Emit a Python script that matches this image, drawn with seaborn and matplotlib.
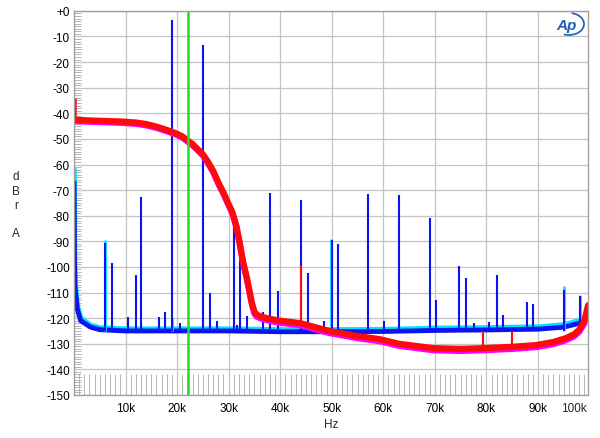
import numpy as np
import pandas as pd
import matplotlib
matplotlib.use("Agg")
import matplotlib.pyplot as plt
from matplotlib.patches import Arc
import seaborn as sns

# ---- data (frequencies in kHz, levels in dBr) ----
red_f = [0.12, 1, 3, 6, 9, 12, 14, 16, 18, 20, 21, 22, 23, 24, 25, 26, 27, 28, 29, 30, 30.7,
         31.5, 32, 32.8, 33.5, 34, 34.5, 35, 35.5, 36.5, 38, 40, 44, 49.5, 55, 59.3, 63, 69.6,
         75, 79.6, 85, 89.7, 93, 95.4, 97, 98, 99, 99.7]
red_db = [-42.5, -42.6, -42.8, -43, -43.2, -43.6, -44.2, -45.2, -46.5, -48, -49, -50.5, -52, -54,
          -56, -59, -62.5, -67, -71, -75.5, -78.5, -84, -89, -98, -104, -109, -114, -117.5, -118.7,
          -119.5, -120.3, -121, -122, -125, -127, -128.2, -130, -131.7, -132, -131.7, -131.2,
          -130.5, -129.3, -127.8, -126.3, -124.5, -121, -115]
magenta_db = [-43, -43.1, -43.3, -43.5, -43.7, -44.1, -44.7, -45.7, -47, -48.5, -49.5, -51, -52.5,
              -54.5, -56.5, -59.5, -63, -67.5, -71.5, -76, -79, -84.5, -89.5, -98.5, -104.5, -109.5,
              -114.5, -118.3, -119.5, -120.3, -121.1, -121.8, -122.8, -125.8, -127.8, -129, -130.8,
              -132.5, -132.8, -132.5, -132, -131.3, -130.1, -128.6, -127.1, -125.3, -122, -116.5]
red_dc_f = 0.2
red_dc_db = -34

blue_f = [0.02, 0.1, 0.2, 0.65, 1.3, 3.2, 5, 10, 15, 20, 30, 40, 50, 60, 70, 80, 90, 95, 98, 99.5]
blue_db = [-67, -98, -108, -116.5, -121, -123.5, -124.5, -125, -125, -125, -125, -125.3, -125.3,
           -125.2, -124.8, -124.6, -124.3, -123.5, -122, -120.5]
cyan_db = [-62, -95, -106, -115.5, -120, -122.8, -123.8, -124.3, -124.3, -124.3, -124.3, -124.6,
           -124.6, -124.5, -124, -123.8, -123.5, -122.7, -121, -119.5]

spike_f = [6, 7.3, 10.4, 12, 13, 16.4, 17.7, 19, 20.5, 25, 26.3, 27.8, 31, 31.6, 32.2, 33.6, 36.6,
           38, 39.5, 44, 45.3, 48.5, 50, 51.2, 57, 60.1, 63, 69, 70.2, 74.7, 76, 77.6, 80.5, 82, 83.3,
           87.8, 89, 95, 98.1]
spike_db = [-90.5, -98.5, -119.5, -103, -72.5, -119.5, -117.5, -3.4, -122, -13.2, -110, -121, -81,
            -122.5, -95.5, -119, -117.5, -71, -109.5, -74, -102.5, -121, -89.5, -91, -71.5, -121,
            -72, -81, -113, -99.5, -104.3, -122, -121.5, -103, -118.7, -113.7, -114.3, -109, -111.5]
cyan_spike_f = [6, 19, 49.8, 95, 98.1]
cyan_spike_db = [-89.3, -120, -89, -107.3, -110.8]
red_spike_f = [44, 79.3, 84.9]
red_spike_db = [-99.5, -125, -125]
red_spike_base = [-122, -131.7, -131.5]

marker_f = 22.05  # green line

y_ticks = list(range(0, -151, -10))
y_labels = ["+0"] + [str(v) for v in y_ticks[1:]]
x_ticks = [10, 20, 30, 40, 50, 60, 70, 80, 90]
x_labels = ["10k", "20k", "30k", "40k", "50k", "60k", "70k", "80k", "90k"]

sns.set_style("white")
plt.rcParams["font.family"] = ["Liberation Sans", "DejaVu Sans"]

fig, ax = plt.subplots(figsize=(6, 4.39), dpi=100)
fig.subplots_adjust(left=0.1233, right=0.98, bottom=0.098, top=0.973)

red = pd.DataFrame({"f": red_f, "red": red_db, "mag": magenta_db})
blue = pd.DataFrame({"f": blue_f, "blue": blue_db, "cyan": cyan_db})

# noise floors drawn as thick traces
sns.lineplot(data=blue, x="f", y="cyan", ax=ax, color="#00e5ff", linewidth=4, sort=False)
sns.lineplot(data=blue, x="f", y="blue", ax=ax, color="#0a14f0", linewidth=3.5, sort=False)

ax.vlines(cyan_spike_f, -125, cyan_spike_db, color="#00e5ff", linewidth=2)
ax.vlines(spike_f, -125, spike_db, color="#0a14f0", linewidth=1.5)

sns.lineplot(data=red, x="f", y="mag", ax=ax, color="#ff00ff", linewidth=4.5, sort=False)
sns.lineplot(data=red, x="f", y="red", ax=ax, color="#ff0a0a", linewidth=4.5, sort=False)
ax.vlines(red_spike_f, red_spike_base, red_spike_db, color="#ff0a0a", linewidth=1.5)
ax.vlines([red_dc_f], red_db[0], red_dc_db, color="#ff0a0a", linewidth=1.8)

ax.axvline(marker_f, color="#22dd22", linewidth=1.8)

ax.set_xlim(0, 99.7)
ax.set_ylim(-150, 0)
ax.set_yticks(y_ticks)
ax.set_yticklabels(y_labels)
ax.set_xticks(x_ticks)
ax.set_xticklabels(x_labels)
ax.set_yticks(np.arange(-150, 0, 1), minor=True)
ax.set_xticks(np.arange(1, 100, 1), minor=True)
ax.tick_params(axis="both", which="major", length=0, labelsize=8.5, colors="black")
ax.tick_params(axis="y", which="major", pad=3)
ax.tick_params(axis="x", which="major", pad=5)
ax.tick_params(axis="y", which="minor", left=True, direction="in", length=5, width=0.6, color="#aaaaaa")
ax.tick_params(axis="x", which="minor", bottom=True, direction="in", length=15, width=0.6, color="#aaaaaa")
ax.grid(True, which="major", color="#c4c4c4", linewidth=0.9)
ax.set_axisbelow(True)
for s in ax.spines.values():
    s.set_color("#a0a0a0")
    s.set_linewidth(1)
ax.set_xlabel("")
ax.set_ylabel("")

# last x label sits inside the right edge, as in the reference
ax.annotate("100k", xy=(96.9, 0), xycoords=("data", "axes fraction"), xytext=(0, -5),
            textcoords="offset points", ha="center", va="top", fontsize=8.5)

fig.text(331 / 600, 1 - 425 / 439, "Hz", ha="center", va="center", fontsize=8.5)
fig.text(16 / 600, 1 - 206 / 439, "d\nB\nr\n\nA", ha="center", va="center", fontsize=8.5,
         linespacing=1.25)

# Ap logo
fig.text(567 / 600, 1 - 26 / 439, "Ap", ha="center", va="center", fontsize=11, style="italic",
         fontweight="bold", color="#1f5fb0")
fig.add_artist(Arc((569 / 600, 1 - 25 / 439), 30 / 600, 22 / 439, angle=0, theta1=-110, theta2=80,
                   transform=fig.transFigure, color="#1f5fb0", linewidth=1.2))

fig.savefig("out.png", dpi=100)
